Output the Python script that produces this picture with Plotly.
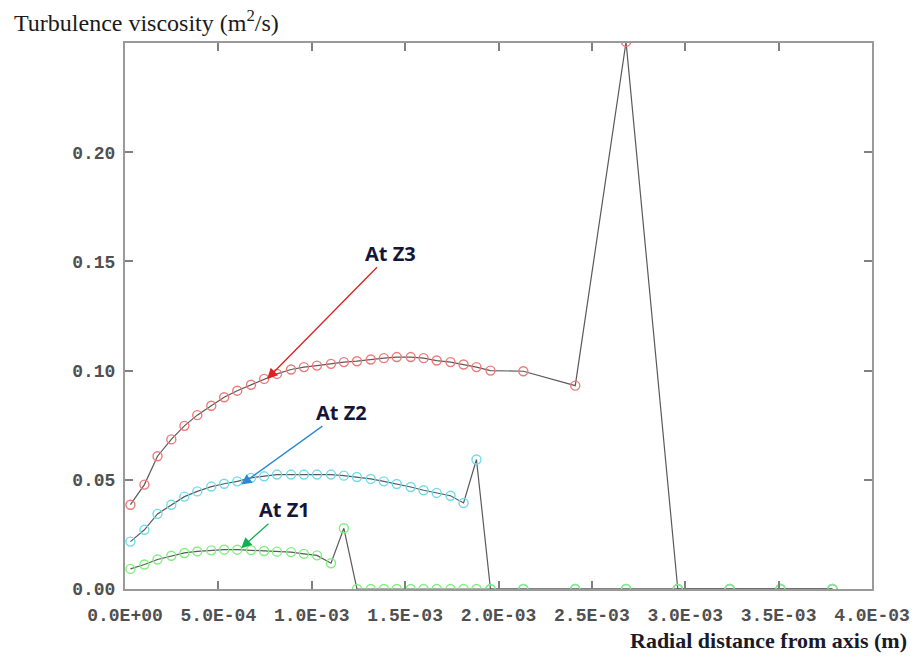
import plotly.graph_objects as go

# Radial positions of the mesh nodes (m)
radial_m = [
    0.029e-3, 0.104e-3, 0.174e-3, 0.248e-3, 0.318e-3, 0.387e-3, 0.462e-3,
    0.531e-3, 0.601e-3, 0.675e-3, 0.745e-3, 0.814e-3, 0.889e-3, 0.958e-3,
    1.028e-3, 1.103e-3, 1.172e-3, 1.242e-3, 1.316e-3, 1.386e-3, 1.455e-3,
    1.530e-3, 1.599e-3, 1.669e-3, 1.743e-3, 1.813e-3, 1.882e-3, 1.957e-3,
    2.133e-3, 2.411e-3, 2.683e-3, 2.960e-3, 3.238e-3, 3.510e-3, 3.788e-3,
]

# Turbulence viscosity (m2/s) at the three axial stations
nu_z3 = [
    0.0386, 0.0478, 0.0608, 0.0685, 0.0747, 0.0796, 0.0839, 0.0878, 0.0908,
    0.0935, 0.0962, 0.0985, 0.1005, 0.1016, 0.1023, 0.1031, 0.1039, 0.1043,
    0.1051, 0.1057, 0.1062, 0.1062, 0.1057, 0.1046, 0.1039, 0.1028, 0.1016,
    0.1000, 0.0997, 0.0931, 0.2505, 0.0, 0.0, 0.0, 0.0,
]
nu_z2 = [
    0.0217, 0.0271, 0.0344, 0.0386, 0.0423, 0.0447, 0.0469, 0.0482, 0.0493,
    0.0509, 0.0516, 0.0524, 0.0524, 0.0524, 0.0524, 0.0524, 0.0519, 0.0513,
    0.0504, 0.0493, 0.0481, 0.0467, 0.0452, 0.0440, 0.0427, 0.0394, 0.0593,
    0.0, 0.0, 0.0, 0.0, 0.0, 0.0, 0.0, 0.0,
]
nu_z1 = [
    0.0092, 0.0112, 0.0135, 0.0152, 0.0165, 0.0172, 0.0177, 0.0180, 0.0180,
    0.0178, 0.0174, 0.0171, 0.0169, 0.0161, 0.0154, 0.0118, 0.0278, 0.0,
    0.0, 0.0, 0.0, 0.0, 0.0, 0.0, 0.0, 0.0, 0.0, 0.0, 0.0, 0.0, 0.0, 0.0,
    0.0, 0.0, 0.0,
]

x_ticks = [0.0, 0.5e-3, 1.0e-3, 1.5e-3, 2.0e-3, 2.5e-3, 3.0e-3, 3.5e-3, 4.0e-3]
x_tick_text = ["0.0E+00", "5.0E-04", "1.0E-03", "1.5E-03", "2.0E-03",
               "2.5E-03", "3.0E-03", "3.5E-03", "4.0E-03"]
y_ticks = [0.0, 0.05, 0.10, 0.15, 0.20]
y_tick_text = ["0.00", "0.05", "0.10", "0.15", "0.20"]

series = [
    ("At Z3", nu_z3, "#f07878"),
    ("At Z2", nu_z2, "#6fdcec"),
    ("At Z1", nu_z1, "#7ef07e"),
]

fig = go.Figure()
for name, vals, col in series:
    fig.add_trace(go.Scatter(
        x=radial_m, y=vals, name=name, mode="lines+markers",
        line=dict(color="#5a5a5a", width=1.2),
        marker=dict(symbol="circle-open", size=9, color=col,
                    line=dict(width=1.4, color=col)),
        showlegend=False,
    ))

# Callout labels; each arrow runs from the label to a point on its curve
callouts = [
    # text, label_x, label_y, head_x, head_y, colour
    ("At Z3", 1.423e-3, 0.1537, 0.761e-3, 0.0962, "#e02020"),
    ("At Z2", 1.161e-3, 0.0810, 0.622e-3, 0.0478, "#2a8ad8"),
    ("At Z1", 0.852e-3, 0.0363, 0.622e-3, 0.0187, "#10b050"),
]
for txt, tx, ty, hx, hy, col in callouts:
    fig.add_annotation(x=hx, y=hy, ax=tx, ay=ty, xref="x", yref="y",
                       axref="x", ayref="y", text="<b>%s</b>" % txt,
                       showarrow=True, arrowhead=2, arrowsize=1.6,
                       arrowwidth=1.3, arrowcolor=col, borderpad=0,
                       font=dict(family="Open Sans", size=20, color="#151535"))

serif = "Liberation Serif"
fig.add_annotation(xref="paper", yref="paper", x=-0.1514, y=1.040,
                   xanchor="left", yanchor="middle", showarrow=False,
                   text="Turbulence viscosity (m<sup>2</sup>/s)",
                   font=dict(family=serif, size=24, color="#1a1a1a"))
fig.add_annotation(xref="paper", yref="paper", x=1.0494, y=-0.0952,
                   xanchor="right", yanchor="middle", showarrow=False,
                   text="<b>Radial distance from axis (m)</b>",
                   font=dict(family=serif, size=22, color="#1a1a2a"))

tick_font = dict(family="Liberation Mono", size=18, color="#505050")
axis_common = dict(showline=True, mirror="ticks", linecolor="#9a9a9a",
                   linewidth=2, ticks="inside", ticklen=8, tickwidth=1.5,
                   tickcolor="#808080", showgrid=False, zeroline=False,
                   tickfont=tick_font)

fig.update_xaxes(range=[0, 0.004], tickvals=x_ticks,
                 ticktext=["<b>%s</b>" % t for t in x_tick_text],
                 ticklabelstandoff=8, **axis_common)
fig.update_yaxes(range=[0, 0.25], tickvals=y_ticks,
                 ticktext=["<b>%s</b>" % t for t in y_tick_text],
                 ticklabelstandoff=4, **axis_common)

fig.update_layout(
    width=922, height=657,
    margin=dict(l=125, r=47, t=43, b=68),
    paper_bgcolor="white", plot_bgcolor="white",
)

fig.write_html("out.html")
